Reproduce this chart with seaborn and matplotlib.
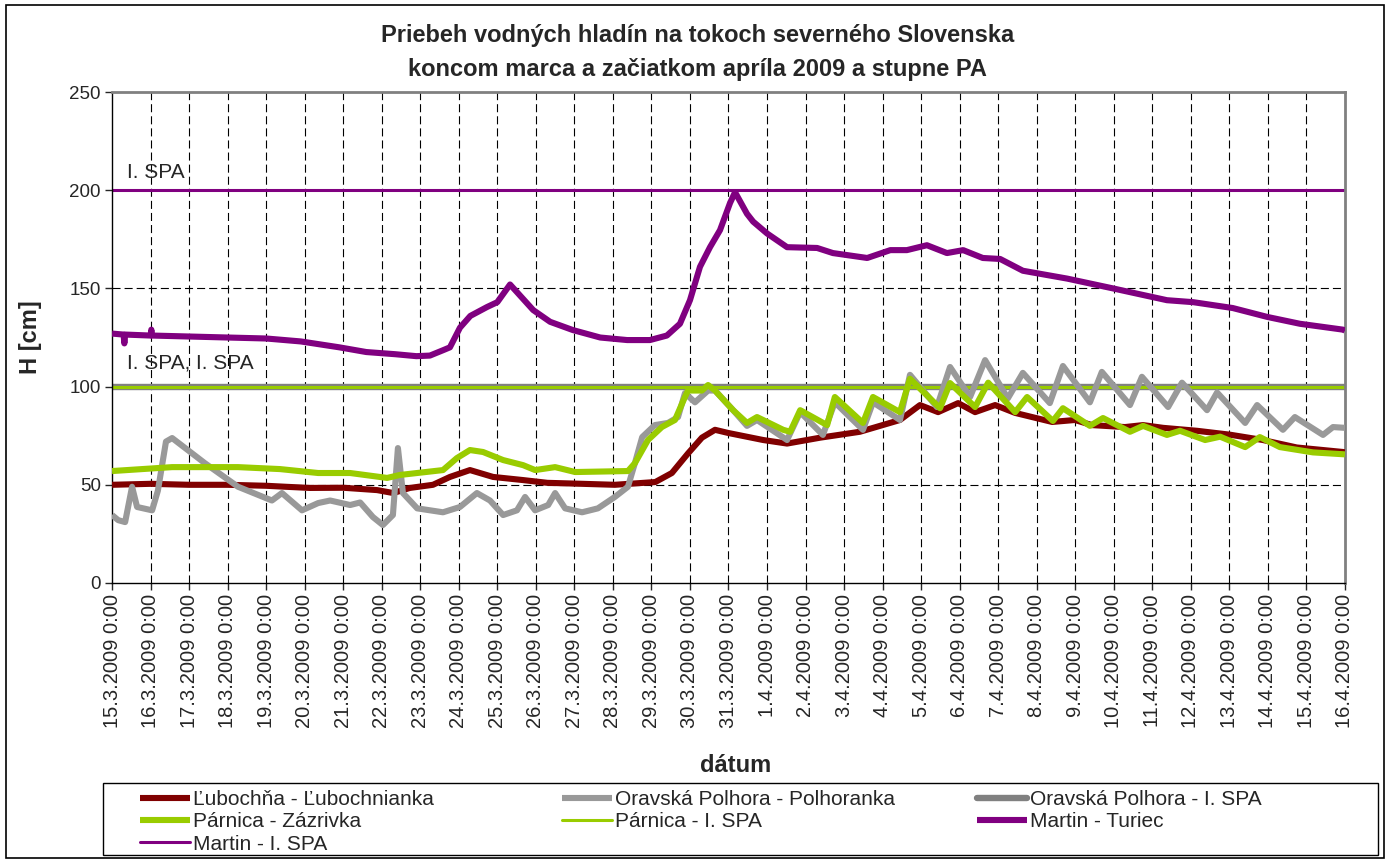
import pandas as pd
import matplotlib
matplotlib.use('Agg')
import matplotlib.pyplot as plt
from matplotlib.patches import Rectangle
import seaborn as sns

# days since 15.3.2009 0:00 and water level H [cm]
lub_t = [0, 1, 2, 3, 4, 4.5, 5.14, 6.0, 6.88, 7.3, 7.73, 8.33, 8.77, 9.29, 9.89, 10.67, 11.3, 12.2, 13.05,
         14.1, 14.53, 14.95, 15.31, 15.65, 15.99, 16.9, 17.52, 18.38, 19.41, 20.45, 20.97, 21.44, 21.96, 22.4,
         22.92, 23.44, 24.4, 24.99, 25.43, 26.29, 26.76, 27.28, 28.16, 29.02, 29.87, 30.75, 31.95, 32]
lub_h = [50, 50.5, 50, 50, 49.5, 49, 48.4, 48.5, 47.3, 45.8, 48.4, 50, 54, 57.5, 54, 52.4, 51, 50.5, 50,
         51.4, 56, 66, 74, 78, 76.4, 72.8, 71, 74, 77, 83, 90.6, 87, 91.6, 87,
         90.6, 86.6, 82, 83, 80.4, 79.4, 80.4, 79, 77.5, 75.5, 72.8, 69, 66.7, 66.5]

orav_t = [0, 0.16, 0.34, 0.52, 0.65, 1.04, 1.19, 1.4, 1.56, 2.41, 3.27, 4.15, 4.41, 4.93, 5.35, 5.66, 6.18,
          6.44, 6.77, 7.03, 7.29, 7.42, 7.55, 7.92, 8.59, 9.03, 9.47, 9.81, 10.15, 10.51, 10.72, 10.98,
          11.32, 11.5, 11.76, 12.2, 12.61, 13.05, 13.39, 13.57, 13.76, 14.09, 14.43, 14.69, 14.87, 15.13,
          15.47, 15.65, 16.12, 16.48, 16.74, 17.52, 17.86, 18.45, 18.76, 19.49, 19.75, 20.45, 20.71, 21.41,
          21.75, 22.27, 22.66, 23.25, 23.64, 24.34, 24.68, 25.38, 25.69, 26.42, 26.73, 27.41, 27.77, 28.42,
          28.68, 29.41, 29.72, 30.39, 30.7, 31.43, 31.69, 32]
orav_h = [34.6, 32, 31, 49, 38.7, 37, 47, 72, 73.8, 61, 49, 42, 45.8, 37, 40.7, 42, 39.7,
          41, 33.6, 29.5, 34.6, 68.7, 45.8, 38, 36, 38.7, 45.8, 42, 34.6, 37, 43.8, 37,
          39.7, 45.8, 38, 36, 38, 43.8, 49, 61, 74.3, 80.4, 81.5, 84.5, 96.7, 92,
          98, 98, 88, 80, 83, 72.8, 87, 75.4, 92, 78, 92, 83, 106, 89.6,
          110, 94.7, 113.5, 94, 107, 91.6, 110.5, 92, 107.5, 90.6, 105, 89.6, 102, 88,
          97, 81.5, 90.6, 78, 84.5, 75.4, 79.4, 79]

parn_t = [0, 1.56, 3.27, 4.36, 5.35, 6.18, 7.14, 7.47, 8.59, 8.95, 9.29, 9.63, 10.15, 10.67, 10.98, 11.5,
          12.02, 13.39, 13.57, 13.91, 14.27, 14.61, 14.87, 14.95, 15.31, 15.47, 15.65, 16.12, 16.48, 16.74,
          17.42, 17.6, 17.86, 18.56, 18.76, 19.49, 19.75, 20.45, 20.71, 21.49, 21.75, 22.4, 22.74, 23.44,
          23.75, 24.42, 24.68, 25.38, 25.72, 26.42, 26.76, 27.38, 27.72, 28.37, 28.76, 29.41, 29.79, 30.31,
          31.17, 32]
parn_h = [57, 59, 59, 58, 56, 56, 53.5, 55, 57.5, 63.6, 67.7, 66.7, 62.6, 60, 57.5, 59,
          56.5, 57, 61, 72.8, 79.4, 83, 94.7, 98, 98, 100.8, 98, 88, 81.5, 84.5,
          78, 77, 88, 80.4, 94.7, 81.5, 94.7, 87, 104, 89, 101.8, 89.6, 102, 87,
          94.7, 82.5, 89, 80, 84, 77, 80, 75.4, 77.5, 72.8, 74.5, 69.2, 74.3, 69.2,
          66.5, 65.5]

mart_t = [0, 0.3, 0.32, 0.34, 1, 1.02, 1.04, 3, 4, 4.9, 5.9, 6.6, 7.35, 7.9, 8.25, 8.6, 8.77, 9.03, 9.3,
          9.73, 10.0, 10.33, 10.93, 11.37, 11.96, 12.67, 13.37, 13.96, 14.4, 14.74, 15.0, 15.26, 15.52,
          15.78, 16.04, 16.17, 16.48, 16.64, 17.0, 17.52, 18.3, 18.71, 19.6, 20.2, 20.63, 21.15, 21.67,
          22.09, 22.6, 23.05, 23.64, 24.79, 25.98, 27.38, 28.06, 29.09, 29.98, 30.83, 31.95, 32]
mart_h = [127, 126.5, 122, 126.5, 126, 129, 126, 125, 124.5, 123, 120, 117.6, 116.5, 115.5, 115.8, 118.6,
          120, 130, 136, 140.5, 143, 152, 139, 133, 128.8, 125, 123.7, 123.7, 126, 132, 144, 161, 171,
          179.7, 193.5, 199, 188, 184, 178, 171, 170.6, 168, 165.5, 169.5, 169.5, 172, 168,
          169.5, 165.5, 165, 159, 155, 150, 144, 143, 140, 135.5, 132, 129, 128.5]

# I. SPA flood-alert levels
spa_orav = 100
spa_parn = 100
spa_mart = 200

dates = pd.date_range('2009-03-15', '2009-04-16', freq='D')
tick_labels = [f'{d.day}.{d.month}.{d.year} 0:00' for d in dates]
tick_pos = list(range(len(dates)))

series = [
    ('Ľubochňa - Ľubochnianka', lub_t, lub_h, '#800000'),
    ('Oravská Polhora - Polhoranka', orav_t, orav_h, '#999999'),
    ('Párnica - Zázrivka', parn_t, parn_h, '#99CC00'),
    ('Martin - Turiec', mart_t, mart_h, '#800080'),
]

sns.set_style('white')
plt.rcParams['font.family'] = ['Liberation Sans', 'DejaVu Sans']
plt.rcParams['lines.scale_dashes'] = False

fig = plt.figure(figsize=(13.9, 8.61), dpi=100)
ax = fig.add_axes([0.0806, 0.3229, 0.887, 0.5702])

handles = {}
for name, t, h, col in series:
    df = pd.DataFrame({'day': t, 'H': h})
    sns.lineplot(data=df, x='day', y='H', color=col, linewidth=4.4, ax=ax, label=name,
                 solid_capstyle='butt', zorder=3)
    handles[name] = ax.get_lines()[-1]

handles['Oravská Polhora - I. SPA'] = ax.axhline(spa_orav, color='#808080', lw=4.6, zorder=2,
                                                 label='Oravská Polhora - I. SPA')
handles['Párnica - I. SPA'] = ax.axhline(spa_parn, color='#99CC00', lw=2.2, zorder=2.5,
                                         label='Párnica - I. SPA')
handles['Martin - I. SPA'] = ax.axhline(spa_mart, color='#800080', lw=2.2, zorder=2.5,
                                        label='Martin - I. SPA')
ax.get_legend().remove()

ax.text(0.4, spa_mart + 9, 'I. SPA', fontsize=15, va='center')
ax.text(0.4, spa_orav + 12, 'I. SPA, I. SPA', fontsize=15, va='center')

ax.set_xlim(0, 32)
ax.set_ylim(0, 250)
ax.set_yticks(range(0, 251, 50))
ax.set_xticks(tick_pos)
ax.set_xticklabels(tick_labels, rotation=90, fontsize=14.5)
ax.tick_params(axis='y', labelsize=13.5, length=5, width=1, direction='out', left=True, pad=3)
ax.tick_params(axis='x', length=5, width=1, direction='out', bottom=True, pad=3)
ax.set_xlabel('')
ax.set_ylabel('')

for d in tick_pos[1:-1]:
    ax.axvline(d, color='black', lw=0.8, ls=(0, (5.8, 2.9)), zorder=1)
for v in [50, 100, 150, 200]:
    ax.axhline(v, color='black', lw=0.8, ls=(0, (5.8, 2.9)), zorder=1)

for s in ['left', 'bottom']:
    ax.spines[s].set_color('black')
    ax.spines[s].set_linewidth(1)
for s in ['top', 'right']:
    ax.spines[s].set_color('#808080')
    ax.spines[s].set_linewidth(2)

fig.text(0.502, 0.972, 'Priebeh vodných hladín na tokoch severného Slovenska\n'
         'koncom marca a začiatkom apríla 2009 a stupne PA',
         ha='center', va='top', fontsize=17, fontweight='bold', linespacing=1.6)
fig.text(0.529, 0.111, 'dátum', ha='center', va='center', fontsize=17, fontweight='bold')
fig.text(0.022, 0.608, 'H [cm]', ha='center', va='center', rotation=90, fontsize=17, fontweight='bold')

# legend: three columns like the Excel legend, inside one frame
columns = [
    (140, ['Ľubochňa - Ľubochnianka', 'Párnica - Zázrivka', 'Martin - I. SPA']),
    (562, ['Oravská Polhora - Polhoranka', 'Párnica - I. SPA']),
    (977, ['Oravská Polhora - I. SPA', 'Martin - Turiec']),
]
for xpx, names in columns:
    leg = fig.legend([handles[k] for k in names], names, loc='upper left',
                     bbox_to_anchor=(xpx / 1390, 1 - 790 / 861), frameon=False,
                     fontsize=15, handlelength=2.4, handletextpad=0.15, labelspacing=0.16,
                     borderpad=0, borderaxespad=0)

fig.patches.append(Rectangle((103 / 1390, 6 / 861), 1275 / 1390, 72 / 861, transform=fig.transFigure,
                             fill=False, edgecolor='black', lw=1))
fig.patches.append(Rectangle((0.004, 0.004), 0.992, 0.99, transform=fig.transFigure,
                             fill=False, edgecolor='black', lw=1.2))

fig.savefig('out.png', dpi=100)
